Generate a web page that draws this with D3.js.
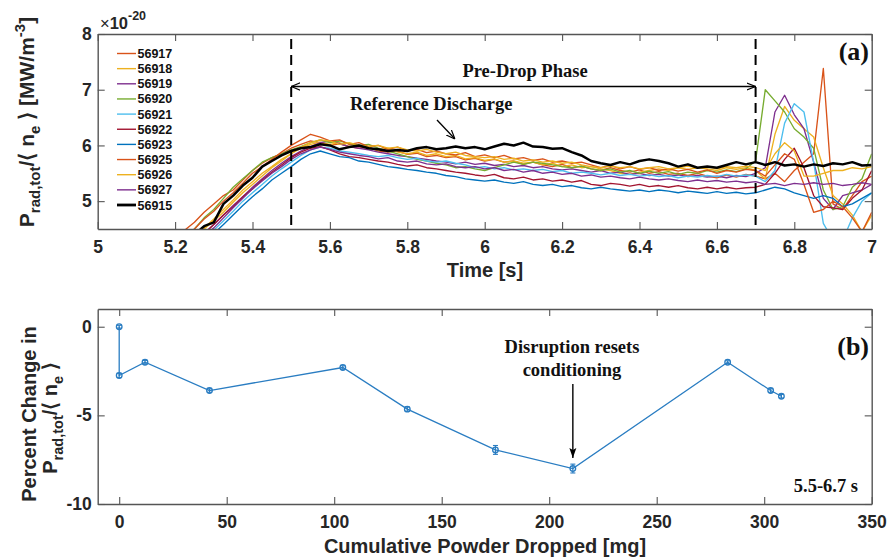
<!DOCTYPE html>
<html>
<head>
<meta charset="utf-8">
<script src="https://cdn.jsdelivr.net/npm/d3@7"></script>
<style>
body { margin: 0; background: #fff; }
svg { display: block; font-family: "Liberation Sans", Arial, Helvetica, sans-serif; }
.tick text { font-family: "Liberation Sans", Arial, sans-serif; font-weight: bold; font-size: 17.5px; fill: #262626; }
.serif { font-family: "Liberation Serif", "Times New Roman", serif; font-weight: bold; fill: #111; }
</style>
</head>
<body>
<script>
// time base of the radiated-power traces [s]
const times = [5.2,5.225,5.25,5.275,5.3,5.325,5.35,5.375,5.4,5.425,
  5.45,5.475,5.5,5.525,5.55,5.575,5.6,5.625,5.65,5.675,
  5.7,5.725,5.75,5.775,5.8,5.825,5.85,5.875,5.9,5.925,
  5.95,5.975,6.0,6.025,6.05,6.075,6.1,6.125,6.15,6.175,
  6.2,6.225,6.25,6.275,6.3,6.325,6.35,6.375,6.4,6.425,
  6.45,6.475,6.5,6.525,6.55,6.575,6.6,6.625,6.65,6.675,
  6.7,6.725,6.75,6.775,6.8,6.825,6.85,6.875,6.9,6.925,
  6.95,6.975,7.0];

// P_rad,tot / <n_e>  (x 1e-20)
const s56917 = [4.4,4.48,4.62,4.8,4.95,5.1,5.2,5.38,5.55,5.68,
  5.78,5.85,5.95,6.02,6.08,6.05,6.0,6.03,5.98,5.95,
  5.97,5.9,5.88,5.9,5.84,5.86,5.8,5.82,5.78,5.8,
  5.74,5.77,5.72,5.75,5.7,5.72,5.66,5.7,5.65,5.62,
  5.66,5.6,5.63,5.58,5.55,5.6,5.55,5.52,5.56,5.5,
  5.53,5.48,5.5,5.46,5.5,5.45,5.42,5.47,5.43,5.48,
  5.45,5.4,5.5,5.35,5.55,5.7,5.85,7.38,4.95,4.85,
  5.1,5.35,5.45];
const s56918 = [4.2,4.3,4.4,4.52,4.68,4.85,5.02,5.2,5.35,5.5,
  5.62,5.75,5.85,5.95,6.02,6.06,6.02,6.05,5.98,6.0,
  5.95,5.92,5.95,5.88,5.85,5.88,5.82,5.85,5.8,5.82,
  5.76,5.78,5.73,5.76,5.7,5.72,5.68,5.7,5.65,5.68,
  5.62,5.65,5.6,5.62,5.58,5.55,5.5,5.48,5.52,5.55,
  5.58,5.55,5.6,5.57,5.6,5.58,5.55,5.6,5.57,5.6,
  5.55,5.4,6.2,6.7,6.45,6.3,6.15,5.6,5.1,4.95,
  4.75,4.45,4.75];
const s56919 = [4.1,4.2,4.3,4.42,4.58,4.75,4.92,5.08,5.25,5.4,
  5.55,5.68,5.8,5.9,5.98,6.05,6.08,6.03,5.98,5.95,
  5.92,5.88,5.85,5.82,5.8,5.77,5.75,5.72,5.7,5.67,
  5.7,5.66,5.68,5.64,5.66,5.62,5.64,5.6,5.62,5.58,
  5.56,5.58,5.55,5.52,5.55,5.5,5.52,5.48,5.5,5.46,
  5.48,5.45,5.47,5.44,5.46,5.43,5.45,5.42,5.46,5.44,
  5.5,5.6,6.6,6.9,6.55,6.3,5.7,5.05,4.85,5.1,
  5.15,5.2,5.3];
const s56920 = [4.3,4.4,4.5,4.7,4.85,5.05,5.25,5.4,5.55,5.7,
  5.78,5.85,5.92,5.98,6.05,6.1,6.05,6.08,6.03,6.0,
  6.02,5.95,5.9,5.85,5.8,5.75,5.72,5.68,5.65,5.6,
  5.62,5.58,5.55,5.6,5.65,5.7,5.66,5.7,5.68,5.65,
  5.62,5.6,5.63,5.58,5.55,5.58,5.52,5.55,5.5,5.54,
  5.5,5.53,5.48,5.52,5.5,5.55,5.52,5.56,5.53,5.58,
  5.72,7.0,6.8,6.6,6.3,6.15,5.95,5.2,4.85,4.9,
  5.25,5.4,5.85];
const s56921 = [4.0,4.1,4.2,4.32,4.48,4.65,4.82,5.0,5.15,5.3,
  5.45,5.58,5.7,5.82,5.92,5.97,5.95,5.9,5.88,5.85,
  5.82,5.8,5.82,5.78,5.75,5.77,5.72,5.7,5.72,5.68,
  5.65,5.6,5.62,5.58,5.6,5.56,5.58,5.55,5.57,5.53,
  5.55,5.5,5.52,5.5,5.47,5.5,5.46,5.48,5.45,5.47,
  5.44,5.46,5.42,5.45,5.43,5.46,5.44,5.48,5.45,5.47,
  5.45,5.35,5.55,6.4,6.75,6.6,5.7,4.6,4.3,4.3,
  4.7,5.0,5.15];
const s56922 = [4.1,4.2,4.3,4.42,4.58,4.75,4.9,5.08,5.22,5.38,
  5.52,5.65,5.78,5.88,5.95,5.98,5.92,5.85,5.8,5.78,
  5.75,5.72,5.7,5.66,5.63,5.65,5.6,5.58,5.55,5.52,
  5.5,5.47,5.45,5.48,5.42,5.4,5.43,5.38,5.4,5.36,
  5.38,5.34,5.37,5.3,5.28,5.32,5.3,5.27,5.3,5.26,
  5.28,5.25,5.28,5.24,5.22,5.25,5.22,5.25,5.22,5.24,
  5.25,5.3,5.5,5.75,5.95,5.6,5.1,4.9,4.88,4.85,
  5.05,5.2,5.55];
const s56923 = [3.95,4.05,4.15,4.28,4.42,4.58,4.75,4.92,5.08,5.22,
  5.38,5.5,5.62,5.75,5.85,5.9,5.85,5.8,5.78,5.72,
  5.7,5.66,5.62,5.6,5.57,5.55,5.52,5.5,5.46,5.44,
  5.4,5.38,5.36,5.38,5.34,5.32,5.35,5.3,5.28,5.3,
  5.26,5.28,5.24,5.22,5.25,5.22,5.2,5.18,5.2,5.17,
  5.2,5.18,5.15,5.18,5.16,5.14,5.17,5.14,5.16,5.13,
  5.15,5.2,5.25,5.22,5.15,5.1,5.05,5.1,5.05,4.9,
  4.95,5.05,5.15];
const s56925 = [4.3,4.4,4.5,4.68,4.82,5.0,5.15,5.32,5.5,5.62,
  5.75,5.88,6.0,6.1,6.2,6.15,6.08,6.1,6.02,6.05,
  5.98,6.0,5.93,5.97,5.9,5.93,5.87,5.9,5.85,5.83,
  5.87,5.8,5.83,5.78,5.82,5.76,5.78,5.73,5.76,5.7,
  5.72,5.68,5.7,5.65,5.6,5.64,5.58,5.62,5.57,5.6,
  5.55,5.58,5.54,5.57,5.52,5.56,5.5,5.55,5.52,5.57,
  5.55,5.45,5.65,5.85,5.75,5.3,4.8,4.85,5.0,4.9,
  4.7,4.45,4.8];
const s56926 = [4.2,4.28,4.38,4.5,4.65,4.8,4.98,5.15,5.3,5.45,
  5.6,5.72,5.85,5.97,6.05,6.1,6.08,6.02,6.05,6.0,
  5.98,6.0,5.95,5.97,5.92,5.9,5.93,5.88,5.85,5.88,
  5.82,5.8,5.78,5.8,5.75,5.77,5.72,5.74,5.7,5.72,
  5.68,5.7,5.65,5.62,5.6,5.63,5.6,5.62,5.58,5.6,
  5.62,5.58,5.6,5.63,5.6,5.62,5.58,5.62,5.6,5.63,
  5.6,5.55,5.85,6.05,5.9,5.45,5.45,5.5,5.55,5.55,
  5.6,5.58,5.62];
const s56927 = [4.05,4.15,4.25,4.38,4.52,4.7,4.88,5.05,5.22,5.36,
  5.5,5.62,5.75,5.85,5.92,5.97,5.93,5.88,5.85,5.82,
  5.8,5.76,5.78,5.72,5.7,5.72,5.67,5.65,5.67,5.62,
  5.6,5.62,5.58,5.6,5.55,5.57,5.52,5.55,5.5,5.52,
  5.48,5.5,5.45,5.47,5.43,5.45,5.42,5.4,5.43,5.4,
  5.38,5.4,5.37,5.35,5.38,5.35,5.37,5.34,5.36,5.33,
  5.35,5.3,5.32,5.28,5.32,5.3,5.33,5.3,5.32,5.28,
  5.3,5.33,5.3];
const s56915 = [4.2,4.3,4.4,4.55,4.62,4.95,5.1,5.28,5.42,5.62,
  5.72,5.82,5.9,5.95,5.97,6.02,6.0,5.93,5.97,6.0,
  5.95,5.93,5.9,5.92,5.9,5.95,5.97,5.93,5.95,5.98,
  5.95,5.97,5.93,5.98,6.03,6.0,6.05,5.98,5.97,5.94,
  5.95,5.88,5.82,5.72,5.68,5.65,5.7,5.66,5.72,5.75,
  5.72,5.68,5.62,5.66,5.6,5.62,5.6,5.65,5.7,5.66,
  5.7,5.65,5.7,5.64,5.66,5.62,5.66,5.63,5.68,5.66,
  5.7,5.64,5.65];

const shots = ["56917","56918","56919","56920","56921","56922","56923","56925","56926","56927","56915"];
const shotValues = [s56917,s56918,s56919,s56920,s56921,s56922,s56923,s56925,s56926,s56927,s56915];
const shotColors = ["#D95319","#EDB120","#7E2F8E","#77AC30","#4DBEEE","#A2142F","#0072BD","#D95319","#EDB120","#7E2F8E","#000000"];
const phaseBounds = [5.5, 6.7];

// panel (b): percent change vs cumulative powder dropped
const powderMg  = [0, 0, 12, 42, 104, 134, 175, 211, 283, 303, 308];
const pctChange = [0, -2.75, -2.0, -3.6, -2.3, -4.65, -6.95, -8.0, -2.0, -3.6, -3.92];
const pctErr    = [0.08, 0.12, 0.1, 0.1, 0.1, 0.12, 0.25, 0.25, 0.08, 0.1, 0.1];

const timeTicks = [5,5.2,5.4,5.6,5.8,6,6.2,6.4,6.6,6.8,7];
const ratioTicks = [5,6,7,8];
const powderTicks = [0,50,100,150,200,250,300,350];
const pctTicks = [-10,-5,0];

const W = 887, H = 558;
const svg = d3.select("body").append("svg").attr("width", W).attr("height", H);
svg.append("rect").attr("width", W).attr("height", H).attr("fill", "#fff");

const defs = svg.append("defs");
defs.append("clipPath").attr("id", "clipT").append("rect")
  .attr("x", 97.7).attr("y", 34).attr("width", 774).attr("height", 195);
defs.append("marker").attr("id", "openHead")
  .attr("viewBox", "0 -5 10 10").attr("refX", 10).attr("refY", 0)
  .attr("markerWidth", 9).attr("markerHeight", 9).attr("markerUnits", "userSpaceOnUse")
  .attr("orient", "auto-start-reverse")
  .append("path").attr("d", "M0,-4L10,0L0,4").attr("fill", "none").attr("stroke", "#000").attr("stroke-width", 1.3);
defs.append("marker").attr("id", "solidHead")
  .attr("viewBox", "0 -5 10 10").attr("refX", 10).attr("refY", 0)
  .attr("markerWidth", 10).attr("markerHeight", 10).attr("markerUnits", "userSpaceOnUse")
  .attr("orient", "auto")
  .append("path").attr("d", "M0,-3.5L10,0L0,3.5L2,0Z").attr("fill", "#000");

const xT = d3.scaleLinear().domain([5, 7]).range([97.7, 871.7]);
const yT = d3.scaleLinear().domain([4.5, 8]).range([229, 34]);
const xP = d3.scaleLinear().domain([-10, 350]).range([97.7, 871.7]);
const yP = d3.scaleLinear().domain([-10, 1]).range([504, 309]);

const fmt = d => String(+d.toFixed(1));

function drawFrame(x, y, xt, yt) {
  const [x0, x1] = x.range(), [y0, y1] = y.range();
  const g = svg.append("g");
  g.append("g").attr("transform", `translate(0,${y0})`)
    .call(d3.axisBottom(x).tickValues(xt).tickFormat(fmt).tickSizeInner(-7).tickSizeOuter(0).tickPadding(12));
  g.append("g").attr("transform", `translate(0,${y1})`)
    .call(d3.axisTop(x).tickValues(xt).tickFormat("").tickSizeInner(-7).tickSizeOuter(0));
  g.append("g").attr("transform", `translate(${x0},0)`)
    .call(d3.axisLeft(y).tickValues(yt).tickFormat(fmt).tickSizeInner(-7).tickSizeOuter(0).tickPadding(6));
  g.append("g").attr("transform", `translate(${x1},0)`)
    .call(d3.axisRight(y).tickValues(yt).tickFormat("").tickSizeInner(-7).tickSizeOuter(0));
  g.selectAll(".domain").attr("stroke", "#555").attr("stroke-width", 1.4);
  g.selectAll(".tick line").attr("stroke", "#555").attr("stroke-width", 1.1);
  return g;
}

// ---------- panel (a) ----------
const line = d3.line().x((d, i) => xT(times[i])).y(d => yT(d));
svg.append("g").attr("clip-path", "url(#clipT)")
  .selectAll("path").data(shotValues).join("path")
  .attr("d", line)
  .attr("fill", "none")
  .attr("stroke", (d, i) => shotColors[i])
  .attr("stroke-width", (d, i) => shots[i] === "56915" ? 2.5 : 1.35)
  .attr("stroke-linejoin", "round");

svg.append("g").selectAll("line").data(phaseBounds).join("line")
  .attr("x1", d => xT(d)).attr("x2", d => xT(d))
  .attr("y1", yT(8) + 5).attr("y2", yT(4.5))
  .attr("stroke", "#000").attr("stroke-width", 2).attr("stroke-dasharray", "10,6");

drawFrame(xT, yT, timeTicks, ratioTicks);

// exponent
const expo = svg.append("text").attr("x", 100).attr("y", 29).attr("fill", "#262626").attr("font-size", 16.5);
expo.append("tspan").text("×").attr("font-weight", "normal");
expo.append("tspan").text("10").attr("font-weight", "bold");
expo.append("tspan").text("-20").attr("font-size", 12.5).attr("dy", -9).attr("font-weight", "bold");

// legend
const leg = svg.append("g").selectAll("g").data(shots).join("g")
  .attr("transform", (d, i) => `translate(0,${53.5 + i * 15.15})`);
leg.append("line").attr("x1", 117).attr("x2", 136)
  .attr("stroke", (d, i) => shotColors[i])
  .attr("stroke-width", d => d === "56915" ? 2.8 : 1.4);
leg.append("text").attr("x", 137.5).attr("dy", "0.36em")
  .attr("font-size", 12.5).attr("font-weight", "bold").attr("fill", "#111")
  .text(d => d);

// y label (a)
const yl = svg.append("text").attr("transform", "translate(34,122) rotate(-90)")
  .attr("text-anchor", "middle").attr("font-size", 21).attr("font-weight", "bold").attr("fill", "#262626");
yl.append("tspan").text("P");
yl.append("tspan").text("rad,tot").attr("font-size", 15).attr("dy", 6);
yl.append("tspan").text("/\u27E8 n").attr("dy", -6);
yl.append("tspan").text("e").attr("font-size", 15).attr("dy", 6);
yl.append("tspan").text(" \u27E9 [MW/m").attr("dy", -6);
yl.append("tspan").text("-3").attr("font-size", 15).attr("dy", -9);
yl.append("tspan").text("]").attr("dy", 9);

svg.append("text").attr("x", 485).attr("y", 277).attr("text-anchor", "middle")
  .attr("font-size", 20).attr("font-weight", "bold").attr("fill", "#262626").text("Time [s]");

// annotations (a)
svg.append("line").attr("x1", xT(phaseBounds[0])).attr("x2", xT(phaseBounds[1]))
  .attr("y1", 86.5).attr("y2", 86.5).attr("stroke", "#000").attr("stroke-width", 1.3)
  .attr("marker-start", "url(#openHead)").attr("marker-end", "url(#openHead)");
svg.append("text").attr("class", "serif").attr("x", 525).attr("y", 77).attr("text-anchor", "middle")
  .attr("font-size", 18.5).text("Pre-Drop Phase");
svg.append("text").attr("class", "serif").attr("x", 350).attr("y", 110)
  .attr("font-size", 18.5).text("Reference Discharge");
svg.append("line").attr("x1", 437).attr("y1", 120).attr("x2", 455).attr("y2", 139)
  .attr("stroke", "#000").attr("stroke-width", 1.3).attr("marker-end", "url(#openHead)");
svg.append("text").attr("class", "serif").attr("x", 869).attr("y", 60).attr("text-anchor", "end")
  .attr("font-size", 26).text("(a)");

// ---------- panel (b) ----------
drawFrame(xP, yP, powderTicks, pctTicks);

const pts = powderMg.map((m, i) => ({ m, v: pctChange[i], e: pctErr[i] }));
const blue = "#2a7dc2";
svg.append("path").datum(pts)
  .attr("d", d3.line().x(d => xP(d.m)).y(d => yP(d.v)))
  .attr("fill", "none").attr("stroke", blue).attr("stroke-width", 1.3);
const eb = svg.append("g").selectAll("g").data(pts).join("g");
eb.append("line").attr("x1", d => xP(d.m)).attr("x2", d => xP(d.m))
  .attr("y1", d => yP(d.v - d.e)).attr("y2", d => yP(d.v + d.e))
  .attr("stroke", blue).attr("stroke-width", 1.2);
eb.append("line").attr("x1", d => xP(d.m) - 2.5).attr("x2", d => xP(d.m) + 2.5)
  .attr("y1", d => yP(d.v - d.e)).attr("y2", d => yP(d.v - d.e))
  .attr("stroke", blue).attr("stroke-width", 1.1);
eb.append("line").attr("x1", d => xP(d.m) - 2.5).attr("x2", d => xP(d.m) + 2.5)
  .attr("y1", d => yP(d.v + d.e)).attr("y2", d => yP(d.v + d.e))
  .attr("stroke", blue).attr("stroke-width", 1.1);
eb.append("circle").attr("cx", d => xP(d.m)).attr("cy", d => yP(d.v)).attr("r", 2.8)
  .attr("fill", "none").attr("stroke", blue).attr("stroke-width", 1.3);

const yl2 = svg.append("g").attr("font-weight", "bold").attr("fill", "#262626");
yl2.append("text").attr("transform", "translate(36,414) rotate(-90)").attr("text-anchor", "middle")
  .attr("font-size", 20).text("Percent Change in");
const yl2b = yl2.append("text").attr("transform", "translate(57,418) rotate(-90)").attr("text-anchor", "middle")
  .attr("font-size", 20);
yl2b.append("tspan").text("P");
yl2b.append("tspan").text("rad,tot").attr("font-size", 14.5).attr("dy", 6);
yl2b.append("tspan").text("/\u27E8 n").attr("dy", -6);
yl2b.append("tspan").text("e").attr("font-size", 14.5).attr("dy", 6);
yl2b.append("tspan").text(" \u27E9").attr("dy", -6);

svg.append("text").attr("x", 485).attr("y", 553).attr("text-anchor", "middle")
  .attr("font-size", 20).attr("font-weight", "bold").attr("fill", "#262626").text("Cumulative Powder Dropped [mg]");

svg.append("text").attr("class", "serif").attr("x", 869).attr("y", 355).attr("text-anchor", "end")
  .attr("font-size", 26).text("(b)");
svg.append("text").attr("class", "serif").attr("x", 572).attr("y", 353).attr("text-anchor", "middle")
  .attr("font-size", 18.5).text("Disruption resets");
svg.append("text").attr("class", "serif").attr("x", 572).attr("y", 376).attr("text-anchor", "middle")
  .attr("font-size", 18.5).text("conditioning");
svg.append("line").attr("x1", xP(211)).attr("x2", xP(211)).attr("y1", 384).attr("y2", 458)
  .attr("stroke", "#000").attr("stroke-width", 1.4).attr("marker-end", "url(#solidHead)");
svg.append("text").attr("class", "serif").attr("x", 858).attr("y", 492).attr("text-anchor", "end")
  .attr("font-size", 18.5).text("5.5-6.7 s");
</script>
</body>
</html>
